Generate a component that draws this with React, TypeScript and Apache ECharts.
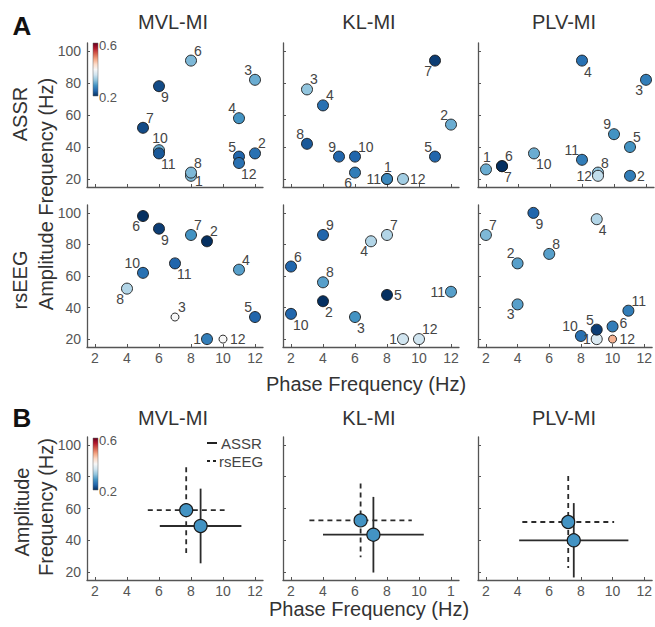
import React, { useEffect, useRef } from 'react';
import * as echarts from 'echarts';

// ---------- data ----------
const panelTitles = ['MVL-MI', 'KL-MI', 'PLV-MI'];
const rowNames = ['ASSR', 'rsEEG'];
const channelIds = ['1', '2', '3', '4', '5', '6', '7', '8', '9', '10', '11', '12'];
const xTicks = [2, 4, 6, 8, 10, 12];
const yTicks = [20, 40, 60, 80, 100];
const colorbarTicks = ['0.6', '0.2'];

// ASSR (row 1): phase freq, amplitude freq, MI value per channel 1..12
const mvlAssrPhase = [8, 12, 12, 11, 11, 8, 5, 8, 6, 6, 6, 11];
const mvlAssrAmp = [22, 36, 82, 58, 34, 94, 52, 24, 78, 38, 36, 30];
const mvlAssrMI = [0.31, 0.25, 0.3, 0.28, 0.24, 0.31, 0.22, 0.31, 0.22, 0.3, 0.23, 0.25];

const klAssrPhase = [8, 12, 3, 4, 11, 6, 11, 3, 5, 6, 8, 9];
const klAssrAmp = [20, 54, 76, 66, 34, 24, 94, 42, 34, 34, 20, 20];
const klAssrMI = [0.28, 0.3, 0.32, 0.25, 0.24, 0.26, 0.21, 0.23, 0.24, 0.24, 0.27, 0.33];

const plvAssrPhase = [2, 11, 12, 8, 11, 3, 3, 9, 10, 5, 8, 9];
const plvAssrAmp = [26, 22, 82, 94, 40, 28, 28, 24, 48, 36, 32, 22];
const plvAssrMI = [0.3, 0.26, 0.26, 0.25, 0.28, 0.2, 0.2, 0.32, 0.28, 0.3, 0.26, 0.35];

// rsEEG (row 2)
const mvlRsPhase = [9, 9, 7, 11, 12, 5, 8, 4, 6, 5, 7, 10];
const mvlRsAmp = [20, 82, 34, 64, 34, 98, 86, 52, 90, 62, 68, 20];
const mvlRsMI = [0.26, 0.2, 0.4, 0.29, 0.24, 0.2, 0.28, 0.34, 0.21, 0.25, 0.24, 0.4];

const klRsPhase = [9, 4, 6, 7, 8, 2, 8, 4, 4, 2, 12, 10];
const klRsAmp = [20, 44, 34, 82, 48, 66, 86, 56, 86, 36, 50, 20];
const klRsMI = [0.36, 0.2, 0.28, 0.34, 0.2, 0.24, 0.34, 0.29, 0.24, 0.24, 0.29, 0.36];

const plvRsPhase = [9, 4, 4, 9, 9, 10, 2, 6, 5, 8, 11, 10];
const plvRsAmp = [20, 68, 42, 96, 26, 28, 86, 74, 100, 22, 38, 20];
const plvRsMI = [0.37, 0.29, 0.29, 0.34, 0.21, 0.26, 0.31, 0.29, 0.24, 0.25, 0.26, 0.47];

// summary (panel B): [phase mean, amp mean, phase sd, amp sd]
const mvlAssrSummary = [8.6, 49, 2.55, 23.5];
const mvlRsSummary = [7.7, 59, 2.4, 27];
const klAssrSummary = [7.15, 43.5, 3.15, 23.8];
const klRsSummary = [6.35, 52.5, 3.2, 23.2];
const plvAssrSummary = [7.55, 40, 3.45, 23.4];
const plvRsSummary = [7.2, 51.5, 2.9, 29];
const summaryMI = 0.28;
const legendNames = ['ASSR', 'rsEEG'];

// ---------- label placement (style, not data) ----------
const mvlAssrLab = ['rb', 'tr', 'tl', 'tl', 'tl', 'tr', 'tr', 'tr', 'br', 't', 'br', 'br'];
const klAssrLab = ['t', 'tl', 'tr', 'tr', 'tl', 'bl', 'bl', 'tl', 'tl', 'tr', 'l', 'r'];
const plvAssrLab = ['t', 'r', 'bl', 'br', 'tr', 'tr', 'br', 'tr', 'tl', 'br', 'tl', 'l'];
const mvlRsLab = ['l', 'tr', 'tr', 'tr', 'tl', 'bl', 'tr', 'bl', 'br', 'tl', 'br', 'r'];
const klRsLab = ['l', 'br', 'br', 'bl', 'r', 'tr', 'tr', 'tr', 'tr', 'br', 'l', 'tr'];
const plvRsLab = ['l', 'tl', 'bl', 'br', 'tl', 'ru', 'tr', 'tr', 'br', 'tl', 'tr', 'r'];

const labelPlace: Record<string, { align: string; offset: number[] }> = {
  tr: { align: 'left', offset: [3, -10] },
  br: { align: 'left', offset: [2, 11] },
  tl: { align: 'right', offset: [-3, -10] },
  bl: { align: 'right', offset: [-3, 10] },
  r: { align: 'left', offset: [7, 0] },
  ru: { align: 'left', offset: [7, -3] },
  rb: { align: 'left', offset: [4, 5] },
  l: { align: 'right', offset: [-6, 0] },
  t: { align: 'center', offset: [1, -12] },
  b: { align: 'center', offset: [0, 12] },
};

const rdbu = ['#053061', '#2166ac', '#4393c3', '#92c5de', '#d1e5f0', '#f7f7f7', '#fddbc7', '#f4a582', '#d6604d', '#b2182b', '#67001f'];

const FONT = '"Liberation Sans", Arial, Helvetica, sans-serif';
const AXIS_COLOR = '#555';

const colLeft = [87, 283, 478];
const colWidth = 176;
const rowTop = [43, 205, 437];
const rowHeight = [144, 142, 143];

export default function App() {
  const ref = useRef<HTMLDivElement>(null);

  useEffect(() => {
    if (!ref.current) return;
    const chart = echarts.init(ref.current, undefined, { renderer: 'svg' });

    const grids: any[] = [];
    const xAxes: any[] = [];
    const yAxes: any[] = [];
    const series: any[] = [];
    const scatterIdx: number[] = [];

    const addPanel = (row: number, col: number) => {
      grids.push({ left: colLeft[col], top: rowTop[row], width: colWidth, height: rowHeight[row] });
      const showX = row !== 0;
      const showY = col === 0;
      const isKLB = row === 2 && col === 1;
      xAxes.push({
        gridIndex: grids.length - 1,
        type: 'value', min: 1.5, max: 12.5,
        splitLine: { show: false },
        axisLine: { onZero: false, lineStyle: { color: AXIS_COLOR, width: 1.3 } },
        axisTick: { inside: true, length: 3, customValues: xTicks, lineStyle: { color: AXIS_COLOR } },
        axisLabel: {
          show: showX, customValues: xTicks, color: '#555', fontSize: 14, fontFamily: FONT, margin: 4,
          formatter: (v: number) => (isKLB && v === 12 ? '1' : String(v)),
        },
      });
      yAxes.push({
        gridIndex: grids.length - 1,
        type: 'value', min: 15, max: 105,
        splitLine: { show: false },
        axisLine: { onZero: false, lineStyle: { color: AXIS_COLOR, width: 1.3 } },
        axisTick: { inside: true, length: 3, customValues: yTicks, lineStyle: { color: AXIS_COLOR } },
        axisLabel: { show: showY, customValues: yTicks, color: '#555', fontSize: 14, fontFamily: FONT, margin: 6 },
      });
      return grids.length - 1;
    };

    const pointPanels = [
      [mvlAssrPhase, mvlAssrAmp, mvlAssrMI, mvlAssrLab, 0, 0],
      [klAssrPhase, klAssrAmp, klAssrMI, klAssrLab, 0, 1],
      [plvAssrPhase, plvAssrAmp, plvAssrMI, plvAssrLab, 0, 2],
      [mvlRsPhase, mvlRsAmp, mvlRsMI, mvlRsLab, 1, 0],
      [klRsPhase, klRsAmp, klRsMI, klRsLab, 1, 1],
      [plvRsPhase, plvRsAmp, plvRsMI, plvRsLab, 1, 2],
    ] as any[];

    pointPanels.forEach(([px, py, mi, lab, row, col]) => {
      const gi = addPanel(row, col);
      const data = channelIds.map((id, i) => {
        const p = labelPlace[lab[i]];
        return {
          name: id,
          value: [px[i], py[i], mi[i]],
          symbolSize: mi[i] >= 0.39 ? 8 : 11,
          label: { align: p.align, offset: p.offset },
        };
      });
      scatterIdx.push(series.length);
      series.push({
        type: 'scatter', xAxisIndex: gi, yAxisIndex: gi,
        data,
        symbol: 'circle',
        itemStyle: { borderColor: '#1a1a1a', borderWidth: 0.9, opacity: 1 },
        label: {
          show: true, position: 'inside', verticalAlign: 'middle',
          formatter: (p: any) => p.name,
          color: '#444', fontSize: 14, fontFamily: FONT,
        },
        emphasis: { disabled: true },
      });
    });

    const summaries = [
      [mvlAssrSummary, mvlRsSummary, 0],
      [klAssrSummary, klRsSummary, 1],
      [plvAssrSummary, plvRsSummary, 2],
    ] as any[];

    summaries.forEach(([assr, rs, col]) => {
      const gi = addPanel(2, col);
      [rs, assr].forEach((s: number[], k: number) => {
        const dashed = k === 0;
        series.push({
          type: 'custom', xAxisIndex: gi, yAxisIndex: gi,
          name: dashed ? legendNames[1] : legendNames[0],
          data: [s],
          renderItem: (params: any, api: any) => {
            const x = api.value(0), y = api.value(1), xe = api.value(2), ye = api.value(3);
            const l = api.coord([x - xe, y]);
            const r = api.coord([x + xe, y]);
            const t = api.coord([x, y + ye]);
            const b = api.coord([x, y - ye]);
            const style = { stroke: '#2b2b2b', lineWidth: 1.8, lineDash: dashed ? [5, 4] : null, fill: null };
            return {
              type: 'group',
              children: [
                { type: 'line', shape: { x1: l[0], y1: l[1], x2: r[0], y2: r[1] }, style },
                { type: 'line', shape: { x1: t[0], y1: t[1], x2: b[0], y2: b[1] }, style },
              ],
            };
          },
          silent: true,
        });
      });
      [rs, assr].forEach((s: number[]) => {
        scatterIdx.push(series.length);
        series.push({
          type: 'scatter', xAxisIndex: gi, yAxisIndex: gi,
          data: [[s[0], s[1], summaryMI]],
          symbolSize: 13,
          itemStyle: { borderColor: '#1a1a1a', borderWidth: 1.2, opacity: 1 },
          emphasis: { disabled: true },
        });
      });
    });

    const gradStops = rdbu.slice().reverse().map((c, i) => ({ offset: i / (rdbu.length - 1), color: c }));
    const colorbar = (top: number, h: number) => [
      {
        type: 'rect', shape: { x: 93, y: top, width: 5, height: h },
        style: { fill: new echarts.graphic.LinearGradient(0, 0, 0, 1, gradStops), stroke: '#666', lineWidth: 0.5 },
      },
      { type: 'text', x: 99, y: top + 2, style: { text: colorbarTicks[0], fill: '#555', font: `13px ${FONT}`, verticalAlign: 'middle' } },
      { type: 'text', x: 99, y: top + h + 1, style: { text: colorbarTicks[1], fill: '#555', font: `13px ${FONT}`, verticalAlign: 'middle' } },
    ];

    const txt = (text: string, x: number, y: number, size: number, opts: any = {}) => ({
      type: 'text', x, y, rotation: opts.rot || 0,
      style: {
        text, fill: opts.color || '#333', font: `${opts.bold ? 'bold ' : ''}${size}px ${FONT}`,
        align: opts.align || 'center', verticalAlign: 'middle',
      },
    });

    const graphic: any[] = [
      txt('A', 22, 26, 26, { bold: true, color: '#111' }),
      txt('B', 22, 418, 26, { bold: true, color: '#111' }),
      ...panelTitles.map((t, i) => txt(t, colLeft[i] + colWidth / 2 - 2, 22, 20)),
      ...panelTitles.map((t, i) => txt(t, colLeft[i] + colWidth / 2 - 2, 418, 20)),
      txt(rowNames[0], 20, 114, 20, { rot: Math.PI / 2 }),
      txt(rowNames[1], 20, 280, 20, { rot: Math.PI / 2 }),
      txt('Amplitude Frequency (Hz)', 46, 194, 20, { rot: Math.PI / 2 }),
      txt('Amplitude', 22, 512, 20, { rot: Math.PI / 2 }),
      txt('Frequency (Hz)', 46, 507, 20, { rot: Math.PI / 2 }),
      txt('Phase Frequency (Hz)', 366, 384, 20),
      txt('Phase Frequency (Hz)', 369, 609, 20),
      ...colorbar(43, 53),
      ...colorbar(438, 52),
      // legend in panel B (MVL-MI)
      { type: 'line', shape: { x1: 207, y1: 443, x2: 217, y2: 443 }, style: { stroke: '#222', lineWidth: 2 } },
      { type: 'line', shape: { x1: 207, y1: 461, x2: 217, y2: 461 }, style: { stroke: '#222', lineWidth: 2, lineDash: [3, 3] } },
      txt(legendNames[0], 221, 443, 15, { align: 'left', color: '#444' }),
      txt(legendNames[1], 219, 461, 15, { align: 'left', color: '#444' }),
    ];

    chart.setOption({
      animation: false,
      backgroundColor: '#fff',
      grid: grids,
      xAxis: xAxes,
      yAxis: yAxes,
      visualMap: {
        type: 'continuous', show: false, min: 0.2, max: 0.6, dimension: 2,
        seriesIndex: scatterIdx, inRange: { color: rdbu },
      },
      series,
      graphic,
    });

    return () => chart.dispose();
  }, []);

  return <div ref={ref} style={{ position: 'fixed', left: 0, top: 0, width: 655, height: 627 }} />;
}
